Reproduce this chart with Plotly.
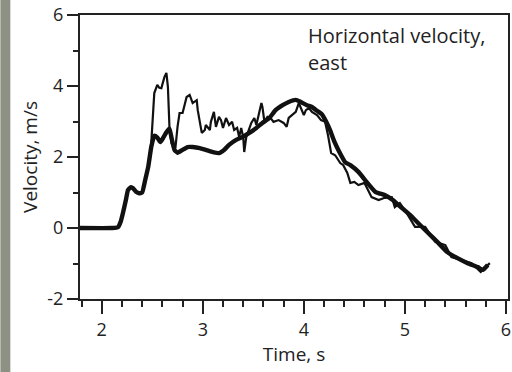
import plotly.graph_objects as go

# Smoothed record (heavy line)
time_smooth = [1.78, 2.10, 2.16, 2.19, 2.21, 2.24, 2.26, 2.29, 2.31, 2.34, 2.37, 2.40, 2.43,
               2.46, 2.49, 2.52, 2.55, 2.58, 2.61, 2.64, 2.67, 2.69, 2.72, 2.75, 2.80, 2.85,
               2.90, 2.97, 3.03, 3.10, 3.16, 3.21, 3.26, 3.33, 3.39, 3.46, 3.53, 3.59, 3.66,
               3.72, 3.79, 3.85, 3.92, 3.97, 4.03, 4.08, 4.13, 4.18, 4.22, 4.26, 4.30, 4.35,
               4.41, 4.46, 4.54, 4.62, 4.71, 4.80, 4.88, 4.96, 5.05, 5.13, 5.23, 5.33, 5.42,
               5.52, 5.62, 5.72, 5.77, 5.82]
vel_smooth = [0, 0, 0.02, 0.2, 0.42, 0.8, 1.07, 1.15, 1.12, 1.02, 0.98, 1.0, 1.35,
              1.72, 2.28, 2.6, 2.55, 2.42, 2.55, 2.70, 2.80, 2.55, 2.20, 2.12, 2.20, 2.28,
              2.28, 2.25, 2.20, 2.14, 2.11, 2.20, 2.34, 2.48, 2.56, 2.68, 2.82, 2.96, 3.10,
              3.32, 3.46, 3.55, 3.61, 3.55, 3.46, 3.41, 3.30, 3.20, 3.00, 2.75, 2.45, 2.15,
              1.85, 1.77, 1.58, 1.30, 1.01, 0.93, 0.79, 0.59, 0.37, 0.14, -0.14, -0.42, -0.68,
              -0.85, -0.99, -1.10, -1.18, -1.04]

# Raw record (light line)
time_raw = [1.78, 2.10, 2.16, 2.19, 2.21, 2.24, 2.26, 2.29, 2.31, 2.34, 2.37, 2.40, 2.43,
            2.46, 2.49, 2.52, 2.55, 2.57, 2.59, 2.62, 2.64, 2.655, 2.67, 2.69, 2.71, 2.73,
            2.75, 2.77, 2.80, 2.84, 2.87, 2.90, 2.94, 2.95, 2.99, 3.02, 3.03, 3.07, 3.08,
            3.11, 3.13, 3.16, 3.18, 3.20, 3.23, 3.26, 3.29, 3.31, 3.34, 3.36, 3.38, 3.40,
            3.41, 3.43, 3.48, 3.51, 3.53, 3.56, 3.58, 3.59, 3.61, 3.64, 3.67, 3.70, 3.75,
            3.80, 3.83, 3.85, 3.88, 3.92, 3.95, 3.97, 4.00, 4.02, 4.05, 4.08, 4.13, 4.17,
            4.21, 4.24, 4.27, 4.31, 4.36, 4.39, 4.43, 4.46, 4.50, 4.54, 4.60, 4.67, 4.74,
            4.80, 4.87, 4.90, 4.95, 5.00, 5.10, 5.20, 5.30, 5.40, 5.46, 5.56, 5.66, 5.75,
            5.84]
vel_raw = [0, 0, 0.02, 0.2, 0.42, 0.8, 1.07, 1.15, 1.12, 1.02, 0.98, 1.0, 1.35,
           1.72, 2.39, 3.80, 4.03, 3.95, 3.94, 4.25, 4.37, 3.97, 2.85, 2.39, 2.28, 2.28,
           2.85, 3.24, 3.24, 3.69, 3.75, 3.52, 3.60, 3.32, 2.68, 2.76, 2.90, 2.76, 2.99,
           3.27, 2.85, 3.13, 3.04, 2.82, 3.10, 2.90, 2.99, 2.76, 2.82, 2.56, 2.82, 2.56,
           2.14, 2.56, 2.96, 3.10, 2.90, 3.27, 3.52, 3.41, 2.99, 3.13, 3.10, 2.99, 3.04,
           2.96, 2.85, 3.10, 3.18, 3.27, 3.52, 3.38, 3.18, 3.32, 3.38, 3.27, 3.18, 3.04,
           2.99, 2.60, 2.11, 2.05, 1.83, 1.77, 1.55, 1.27, 1.30, 1.21, 1.27, 0.87, 0.79,
           0.85, 0.87, 0.59, 0.70, 0.50, 0.03, 0.03, -0.39, -0.48, -0.82, -0.90, -0.99, -1.24,
           -0.99]

x_ticks = [2, 3, 4, 5, 6]
y_ticks = [-2, 0, 2, 4, 6]
y_tick_labels = ["-2", "0", "2", "4", "6"]
label_lines = ["Horizontal velocity,", "east"]

FONT = "Open Sans"
INK = "#222222"

fig = go.Figure()
fig.add_trace(go.Scatter(x=time_raw, y=vel_raw, mode="lines",
                         line=dict(color="#111111", width=2.2), hoverinfo="skip"))
fig.add_trace(go.Scatter(x=time_smooth, y=vel_smooth, mode="lines",
                         line=dict(color="#111111", width=4.4, shape="spline", smoothing=0.4),
                         hoverinfo="skip"))

L, R, T, B = 80, 2, 15, 73
W, H = 512, 372
pw, ph = W - L - R, H - T - B

# In-panel label, one annotation per line for a looser line spacing
label_annotations = [
    dict(xref="paper", yref="paper", x=(307 - L) / pw, y=1 - (20 + 27 * i - T) / ph,
         xanchor="left", yanchor="top", align="left", showarrow=False,
         text=line, font=dict(size=20, color=INK))
    for i, line in enumerate(label_lines)
]

fig.update_layout(
    width=W, height=H,
    margin=dict(l=L, r=R, t=T, b=B),
    paper_bgcolor="white", plot_bgcolor="white",
    showlegend=False,
    font=dict(family=FONT, color=INK, size=18),
    xaxis=dict(range=[1.785, 6.02], tickvals=x_ticks, ticks="outside", ticklen=13,
               tickwidth=2, tickcolor=INK, showline=True, linewidth=2, linecolor=INK,
               mirror=True, showgrid=False, zeroline=False,
               minor=dict(dtick=0.2, tick0=2, ticks="outside", ticklen=6, tickwidth=2,
                          tickcolor=INK, showgrid=False),
               tickfont=dict(size=18),
               title=dict(text="Time, s", font=dict(size=19), standoff=5)),
    yaxis=dict(range=[-2, 6], tickvals=y_ticks, ticktext=y_tick_labels,
               ticks="outside", ticklen=11,
               tickwidth=2, tickcolor=INK, showline=True, linewidth=2, linecolor=INK,
               mirror=True, showgrid=False, zeroline=False,
               minor=dict(dtick=1, tick0=0, ticks="outside", ticklen=5, tickwidth=2,
                          tickcolor=INK, showgrid=False),
               tickfont=dict(size=18),
               title=dict(text="Velocity, m/s", font=dict(size=19), standoff=5)),
    shapes=[dict(type="rect", xref="paper", yref="paper",
                 x0=-L / pw, x1=-(L - 10) / pw, y0=-B / ph, y1=1 + T / ph,
                 fillcolor="#8d9183", line=dict(width=0), layer="below")],
    annotations=label_annotations,
)

fig.write_html("out.html")
